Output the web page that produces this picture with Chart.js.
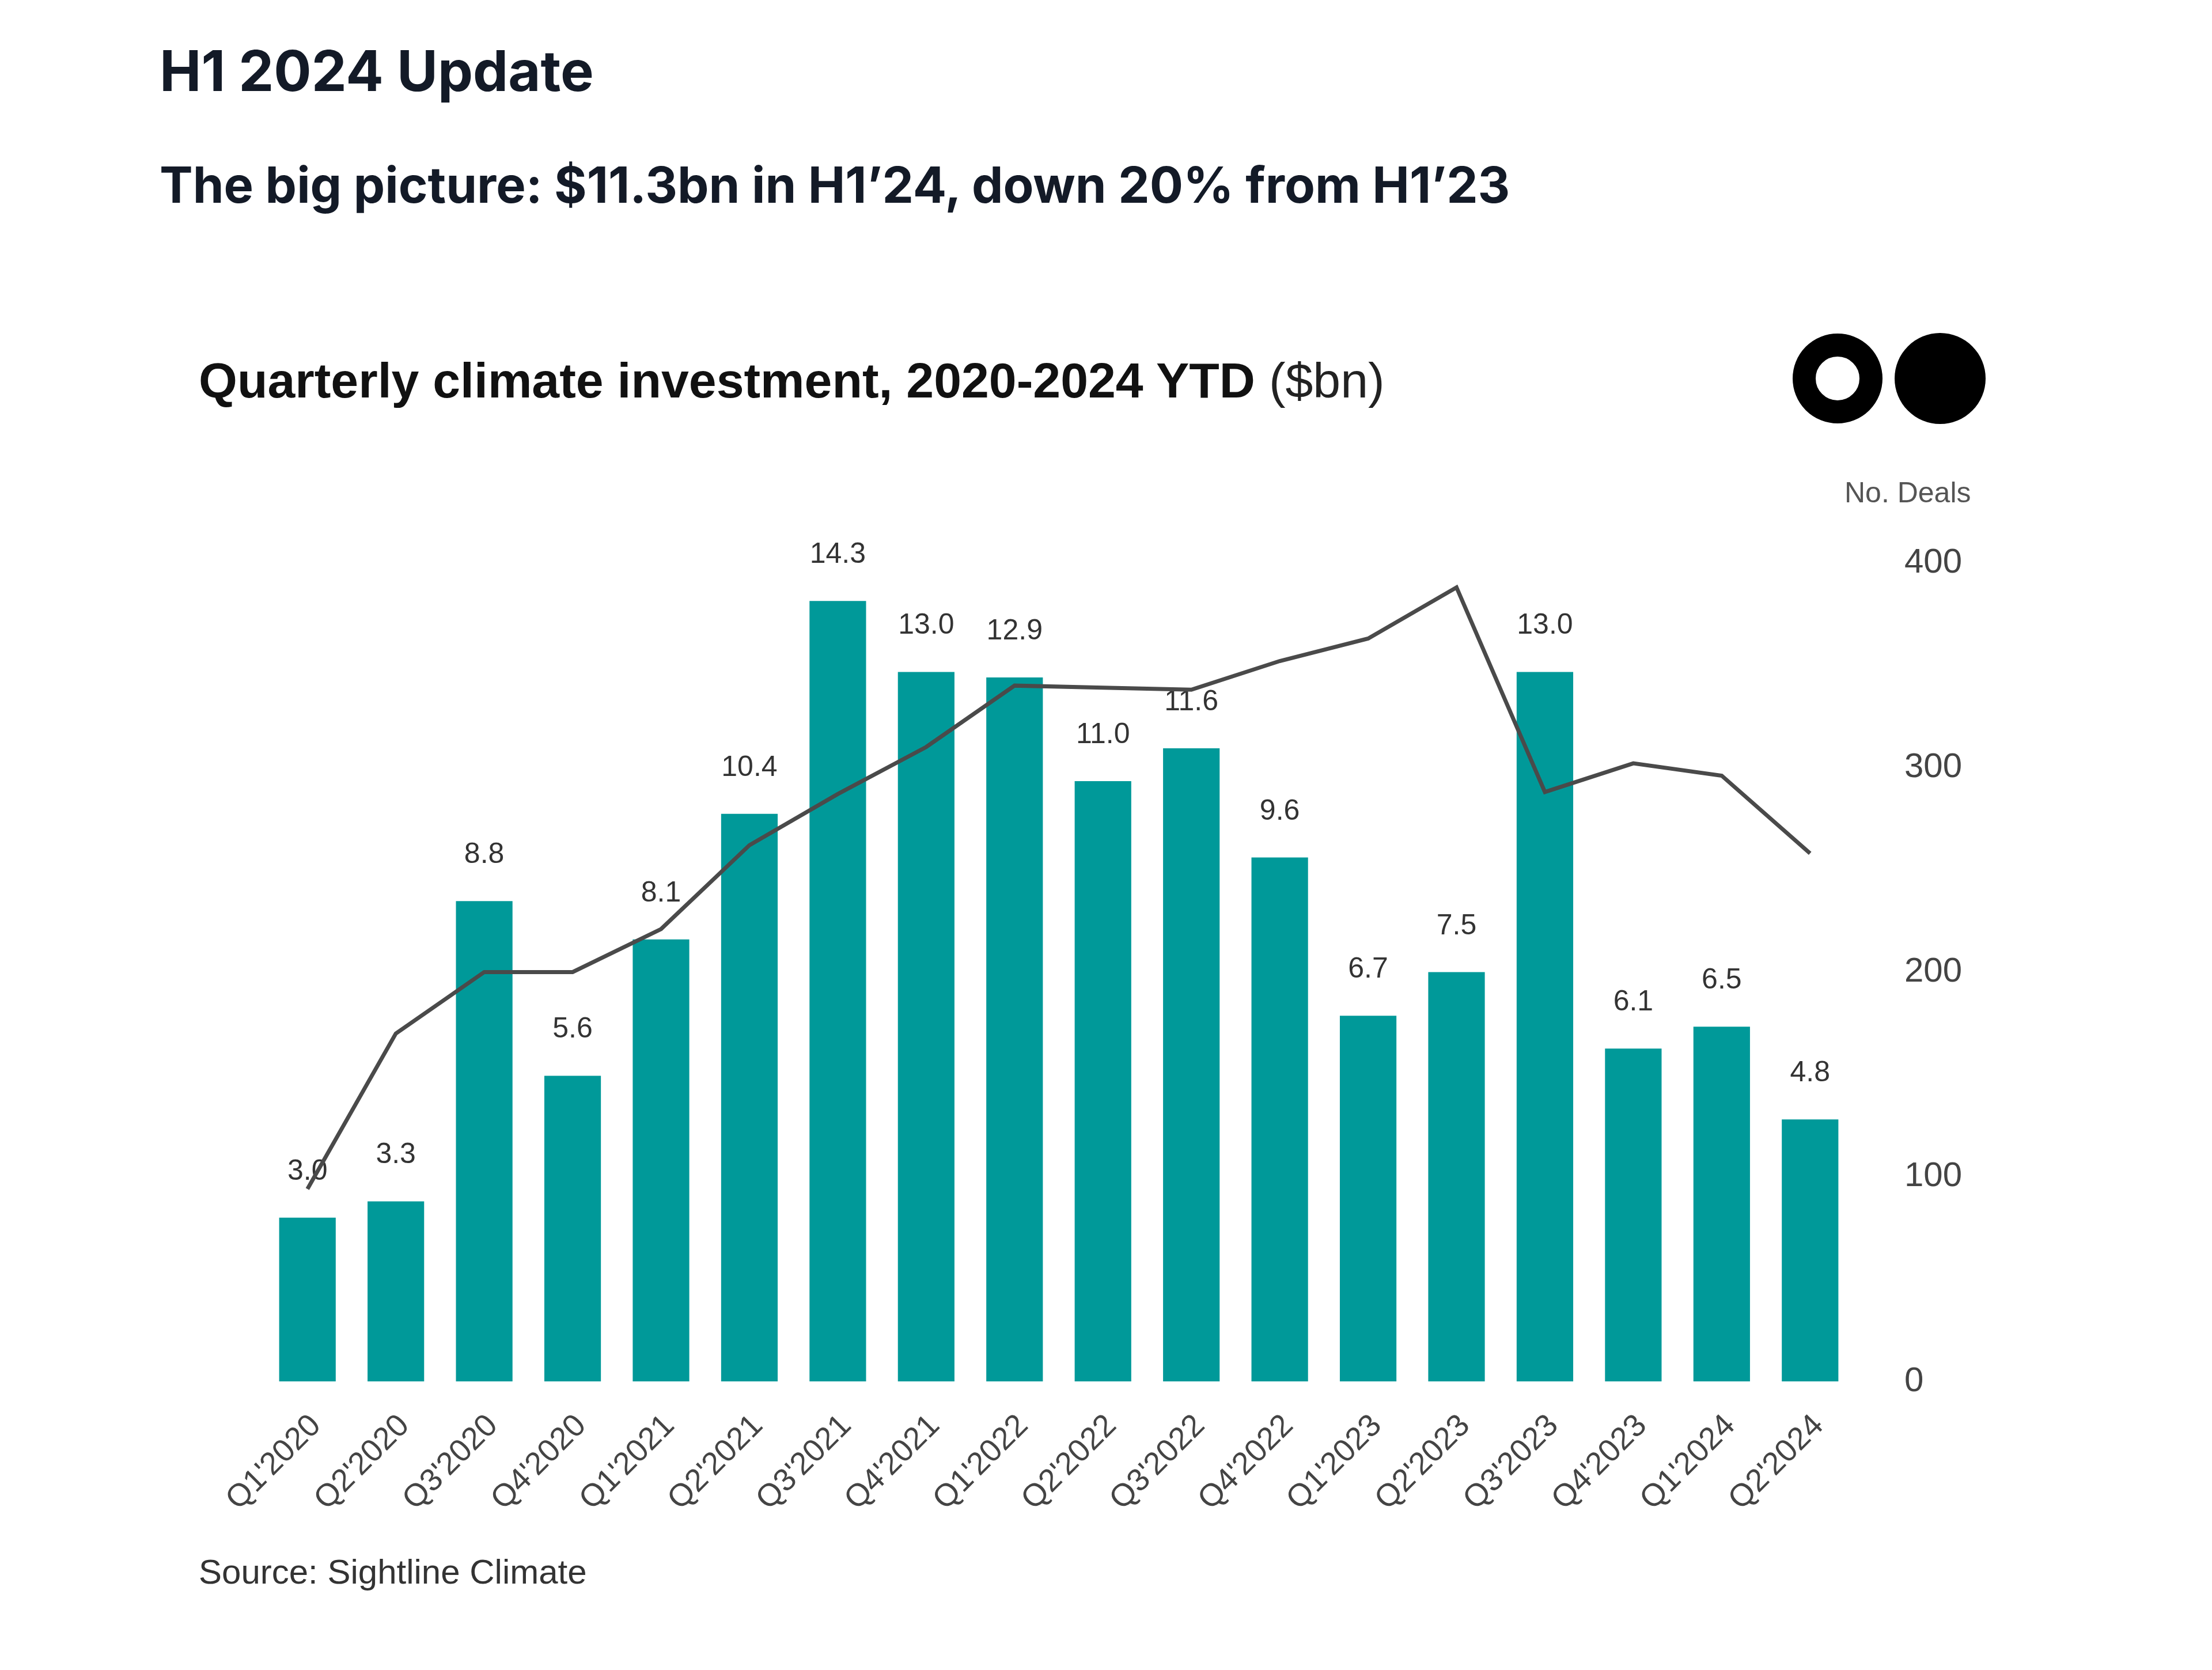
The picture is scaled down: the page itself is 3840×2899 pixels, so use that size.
<!DOCTYPE html>
<html>
<head>
<meta charset="utf-8">
<script src="https://cdn.jsdelivr.net/npm/chart.js@4.4.1/dist/chart.umd.min.js"></script>
<style>
html,body{margin:0;padding:0;background:#fff;}
#page{position:relative;width:3840px;height:2899px;background:#fff;overflow:hidden;}
.t{position:absolute;white-space:nowrap;line-height:1;}
#h1{left:277px;top:64px;font:700 97px Inter;color:#131a27;}
#h2{left:277px;top:268px;font:700 86.5px Inter;color:#131a27;}
#ct{left:345px;top:611px;font:700 86px "Liberation Sans";color:#111;}
#ct span{font-weight:400;color:#222;}
#nd{left:3202px;top:826px;font:400 50px "Liberation Sans";color:#555;}
#src{left:345px;top:2694px;font:400 60px "Liberation Sans";color:#333;}
.ring{position:absolute;left:3112px;top:579px;width:156px;height:156px;box-sizing:border-box;border:40px solid #000;border-radius:50%;}
.dot{position:absolute;left:3289px;top:578px;width:158px;height:158px;background:#000;border-radius:50%;}
#wrap{position:absolute;left:0;top:900px;width:3840px;height:1800px;}
</style>
</head>
<body>
<div id="page">
  <div class="t" id="h1">H1 2024 Update</div>
  <div class="t" id="h2">The big picture: $11.3bn in H1’24, down 20% from H1’23</div>
  <div class="t" id="ct">Quarterly climate investment, 2020-2024 YTD <span>($bn)</span></div>
  <div class="ring"></div>
  <div class="dot"></div>
  <div class="t" id="nd">No. Deals</div>
  <div id="wrap"><canvas id="c" width="3840" height="1800"></canvas></div>
  <div class="t" id="src">Source: Sightline Climate</div>
</div>
<script>
const quarters = ["Q1'2020","Q2'2020","Q3'2020","Q4'2020","Q1'2021","Q2'2021","Q3'2021","Q4'2021","Q1'2022","Q2'2022","Q3'2022","Q4'2022","Q1'2023","Q2'2023","Q3'2023","Q4'2023","Q1'2024","Q2'2024"];
const investment = [3.0,3.3,8.8,5.6,8.1,10.4,14.3,13.0,12.9,11.0,11.6,9.6,6.7,7.5,13.0,6.1,6.5,4.8];
const deals = [94,170,200,200,221,262,287,310,340,339,338,352,363,388,288,302,296,258];
const dealTicks = [0,100,200,300,400];

const valueLabels = {
  id: 'valueLabels',
  afterDatasetDraw(chart, args) {
    if (args.index !== 0) return;
    const ctx = chart.ctx;
    ctx.save();
    ctx.font = '50px "Liberation Sans"';
    ctx.fillStyle = '#333';
    ctx.textAlign = 'center';
    ctx.textBaseline = 'alphabetic';
    args.meta.data.forEach((bar, i) => {
      ctx.fillText(investment[i].toFixed(1), bar.x, bar.y - 66);
    });
    ctx.restore();
  }
};

new Chart(document.getElementById('c'), {
  type: 'bar',
  data: {
    labels: quarters,
    datasets: [
      {
        type: 'bar',
        label: 'Investment ($bn)',
        data: investment,
        backgroundColor: '#009999',
        borderWidth: 0,
        barPercentage: 0.8,
        categoryPercentage: 0.8,
        yAxisID: 'y',
        order: 2
      },
      {
        type: 'line',
        label: 'No. Deals',
        data: deals,
        borderColor: '#4a4a4a',
        borderWidth: 7,
        pointRadius: 0,
        tension: 0,
        fill: false,
        yAxisID: 'y2',
        order: 1
      }
    ]
  },
  options: {
    responsive: false,
    devicePixelRatio: 1,
    animation: false,
    layout: { padding: { left: 457, right: 434, top: 77, bottom: 0 } },
    plugins: { legend: { display: false }, tooltip: { enabled: false } },
    scales: {
      x: {
        grid: { display: false, drawTicks: false },
        border: { display: false },
        ticks: {
          autoSkip: false,
          minRotation: 45,
          maxRotation: 45,
          padding: 45,
          labelOffset: 15,
          color: '#444',
          font: { family: 'Liberation Sans', size: 55 }
        },
        afterFit: (s) => { s.height = 302; }
      },
      y: {
        display: false,
        min: 0,
        max: 15
      },
      y2: {
        position: 'right',
        min: 0,
        max: 400,
        grid: { display: false, drawTicks: false },
        border: { display: false },
        afterBuildTicks: (s) => { s.ticks = dealTicks.map(v => ({ value: v })); },
        ticks: {
          padding: 87,
          color: '#444',
          font: { family: 'Liberation Sans', size: 60 }
        },
        afterFit: (s) => { s.width = 187; s.paddingTop = 0; s.paddingBottom = 0; }
      }
    }
  },
  plugins: [valueLabels]
});
</script>
</body>
</html>
